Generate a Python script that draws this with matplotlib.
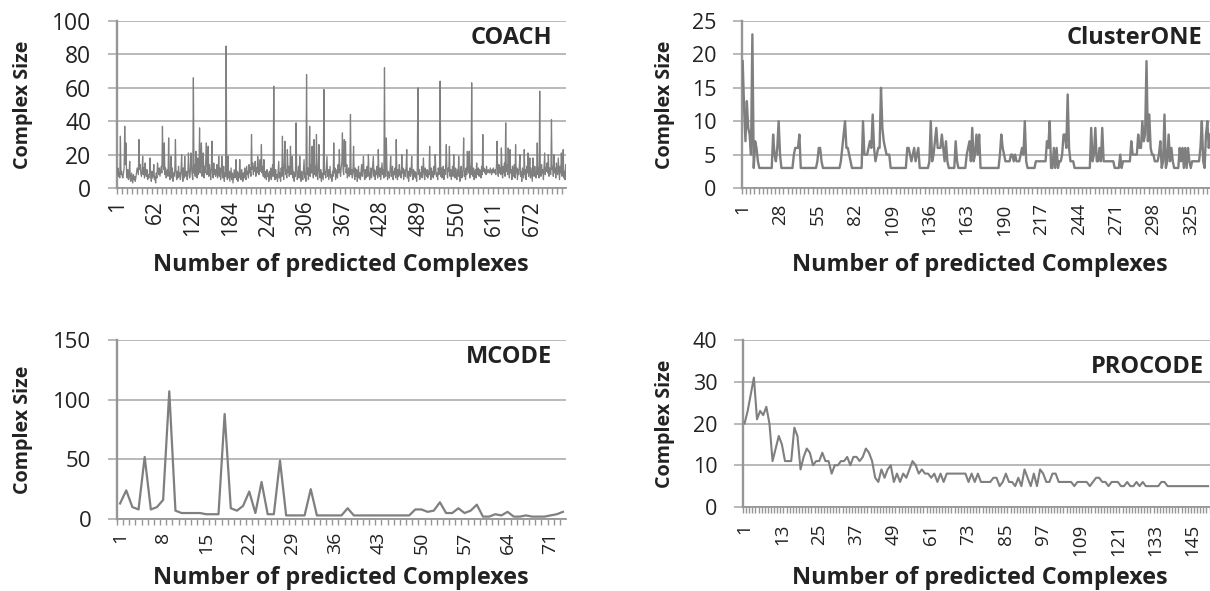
import numpy as np
import matplotlib
matplotlib.use("Agg")
import matplotlib.pyplot as plt

plt.rcParams['font.family'] = ['Open Sans', 'DejaVu Sans']

# complex sizes (one value per predicted complex)
coach = [
    8, 12, 7, 9, 6, 31, 8, 10, 7, 6, 9, 12, 37, 14, 27, 8, 6, 11, 5, 7,
    16, 5, 4, 9, 6, 3, 8, 5, 7, 4, 6, 9, 12, 10, 8, 29, 11, 14, 9, 7,
    10, 19, 8, 12, 6, 15, 9, 7, 11, 5, 8, 6, 9, 18, 7, 4, 10, 6, 8, 14,
    5, 7, 3, 9, 6, 15, 11, 8, 12, 7, 10, 13, 9, 37, 14, 11, 27, 8, 12, 6,
    9, 11, 7, 30, 10, 5, 8, 19, 6, 12, 4, 9, 7, 11, 29, 8, 5, 10, 6, 13,
    7, 9, 5, 11, 20, 8, 4, 12, 6, 19, 9, 7, 10, 5, 8, 21, 11, 6, 9, 21,
    12, 8, 5, 66, 9, 14, 7, 22, 10, 6, 18, 8, 11, 36, 9, 15, 27, 7, 12, 21,
    6, 13, 9, 17, 27, 8, 11, 25, 7, 14, 10, 5, 12, 28, 9, 6, 15, 8, 11, 7,
    10, 14, 6, 9, 19, 7, 12, 5, 8, 19, 11, 6, 13, 4, 9, 7, 85, 8, 5, 19,
    6, 10, 4, 8, 12, 5, 9, 3, 7, 11, 6, 8, 17, 5, 10, 4, 9, 6, 17, 7,
    5, 11, 8, 4, 9, 6, 12, 7, 5, 13, 8, 10, 6, 14, 9, 12, 7, 32, 11, 15,
    8, 13, 10, 16, 7, 12, 9, 19, 14, 8, 11, 17, 10, 26, 9, 13, 7, 17, 6, 10,
    8, 5, 11, 7, 9, 4, 10, 6, 12, 5, 8, 14, 7, 61, 9, 5, 11, 6, 8, 4,
    10, 16, 6, 9, 4, 12, 7, 31, 10, 5, 14, 28, 8, 11, 6, 23, 9, 13, 7, 10,
    25, 8, 12, 19, 6, 10, 4, 9, 7, 39, 11, 5, 8, 13, 6, 19, 9, 4, 10, 7,
    5, 11, 17, 6, 9, 4, 68, 8, 12, 5, 10, 37, 7, 14, 9, 25, 11, 6, 29, 8,
    13, 7, 32, 10, 5, 12, 26, 8, 6, 11, 4, 9, 7, 5, 59, 8, 10, 6, 12, 19,
    7, 11, 5, 9, 13, 6, 8, 4, 10, 7, 27, 9, 12, 5, 8, 11, 6, 14, 9, 23,
    10, 7, 12, 15, 33, 11, 8, 29, 13, 28, 9, 14, 6, 10, 12, 7, 9, 44, 8, 11,
    6, 10, 25, 9, 5, 12, 7, 11, 4, 8, 13, 6, 9, 5, 10, 14, 7, 12, 19, 8,
    5, 11, 6, 9, 13, 7, 20, 10, 5, 8, 12, 6, 9, 14, 19, 7, 11, 5, 10, 8,
    13, 6, 23, 9, 7, 12, 5, 10, 15, 8, 11, 6, 72, 9, 7, 30, 12, 5, 10, 8,
    6, 11, 19, 7, 9, 13, 5, 10, 8, 12, 6, 29, 9, 5, 11, 7, 14, 8, 10, 6,
    20, 9, 12, 5, 8, 11, 7, 13, 23, 6, 10, 4, 9, 12, 7, 10, 19, 8, 5, 11,
    7, 10, 6, 9, 4, 12, 60, 8, 11, 5, 9, 7, 13, 6, 10, 18, 8, 5, 12, 9,
    7, 11, 6, 10, 8, 25, 9, 5, 12, 7, 10, 6, 13, 8, 20, 11, 7, 9, 5, 12,
    8, 10, 64, 7, 12, 6, 9, 13, 5, 11, 8, 14, 26, 9, 6, 12, 10, 25, 7, 11,
    5, 9, 13, 7, 20, 10, 6, 12, 8, 5, 11, 7, 19, 9, 4, 10, 13, 6, 8, 12,
    30, 7, 10, 5, 12, 8, 22, 11, 9, 22, 6, 13, 8, 63, 10, 7, 12, 5, 9, 11,
    6, 15, 10, 8, 12, 7, 11, 9, 6, 13, 8, 32, 10, 12, 9, 11, 8, 13, 10, 9,
    11, 10, 9, 12, 10, 8, 11, 9, 12, 10, 9, 11, 8, 13, 28, 10, 7, 14, 9, 12,
    8, 24, 11, 6, 13, 9, 15, 7, 39, 10, 14, 8, 24, 12, 6, 23, 9, 11, 5, 13,
    7, 10, 14, 6, 26, 9, 12, 5, 11, 8, 13, 20, 7, 10, 4, 12, 9, 6, 23, 8,
    11, 5, 13, 9, 21, 7, 10, 18, 6, 12, 8, 4, 18, 11, 7, 13, 9, 6, 10, 27,
    8, 12, 6, 58, 10, 7, 14, 9, 11, 5, 13, 21, 8, 12, 10, 15, 9, 20, 7, 12,
    10, 8, 41, 11, 13, 7, 20, 9, 12, 6, 15, 10, 8, 18, 11, 5, 13, 9, 21, 7,
    12, 23, 6, 10, 5, 14,
]

clusterone = [
    19, 12, 7, 13, 9, 8, 5, 23, 3, 7, 6, 4, 3, 3, 3, 3, 3, 3, 3, 3,
    3, 3, 8, 5, 4, 6, 10, 5, 3, 3, 3, 3, 3, 3, 3, 3, 3, 5, 6, 6,
    6, 8, 3, 3, 3, 3, 3, 3, 3, 3, 3, 3, 3, 3, 4, 6, 6, 4, 3, 3,
    3, 3, 3, 3, 3, 3, 3, 3, 3, 3, 3, 4, 6, 8, 10, 6, 6, 5, 4, 3,
    3, 3, 3, 3, 3, 3, 3, 10, 5, 5, 5, 6, 7, 6, 11, 6, 4, 5, 6, 6,
    15, 9, 7, 6, 5, 5, 5, 3, 3, 3, 3, 3, 3, 3, 3, 3, 3, 3, 3, 6,
    6, 5, 4, 5, 6, 4, 5, 6, 3, 3, 3, 3, 3, 3, 3, 4, 10, 4, 5, 7,
    9, 6, 6, 6, 8, 6, 4, 7, 4, 3, 3, 3, 3, 3, 7, 4, 3, 3, 3, 3,
    3, 3, 5, 6, 7, 4, 9, 4, 5, 8, 5, 8, 3, 3, 3, 3, 3, 3, 3, 3,
    3, 3, 3, 3, 3, 3, 5, 8, 6, 5, 4, 4, 4, 4, 5, 5, 4, 5, 4, 4,
    4, 5, 6, 5, 10, 4, 3, 3, 3, 3, 3, 3, 4, 4, 4, 4, 4, 4, 4, 4,
    7, 6, 10, 3, 3, 6, 3, 6, 3, 4, 4, 5, 8, 8, 6, 14, 6, 4, 4, 4,
    3, 3, 3, 3, 3, 3, 3, 3, 3, 3, 3, 3, 9, 4, 5, 9, 4, 4, 6, 4,
    9, 4, 4, 4, 4, 4, 4, 4, 4, 3, 3, 3, 3, 5, 3, 4, 4, 4, 4, 4,
    4, 7, 5, 5, 5, 5, 8, 6, 6, 10, 7, 8, 19, 7, 11, 6, 5, 5, 4, 4,
    4, 5, 7, 3, 4, 11, 3, 4, 8, 4, 6, 4, 3, 3, 3, 3, 6, 4, 6, 3,
    6, 3, 6, 4, 3, 4, 4, 4, 4, 4, 4, 6, 10, 4, 3, 8, 10, 6, 8,
]

mcode = [
    13, 24, 10, 8, 52, 8, 10, 16, 107, 7, 5, 5, 5, 5, 4, 4, 4, 88, 9, 7,
    11, 23, 5, 31, 4, 4, 49, 3, 3, 3, 3, 25, 3, 3, 3, 3, 3, 9, 3, 3,
    3, 3, 3, 3, 3, 3, 3, 3, 8, 8, 6, 7, 14, 5, 5, 9, 5, 7, 12, 2,
    2, 4, 3, 6, 2, 2, 3, 2, 2, 2, 3, 4, 6,
]

procode = [
    20, 23, 27, 31, 21, 23, 22, 24, 20, 11, 14, 17, 15, 11, 11, 11, 19, 17, 9, 12,
    14, 13, 10, 11, 11, 13, 11, 11, 8, 10, 10, 11, 11, 12, 10, 12, 12, 11, 12, 14,
    13, 11, 7, 6, 9, 7, 9, 10, 6, 8, 6, 8, 7, 9, 11, 10, 8, 9, 8, 8,
    7, 8, 6, 8, 6, 8, 8, 8, 8, 8, 8, 8, 6, 8, 6, 8, 6, 6, 6, 6,
    7, 7, 5, 6, 8, 6, 6, 5, 7, 5, 9, 7, 5, 8, 5, 9, 8, 6, 6, 8,
    8, 6, 6, 6, 6, 6, 5, 6, 6, 6, 6, 5, 6, 7, 7, 6, 6, 5, 6, 6,
    6, 5, 5, 6, 5, 5, 6, 5, 6, 5, 5, 5, 5, 5, 6, 6, 5, 5, 5, 5,
    5, 5, 5, 5, 5, 5, 5, 5, 5, 5,
]

W, H = 1210, 591
line_gray = '#7f7f7f'
grid_gray = '#a6a6a6'
axis_gray = '#969696'
text_col = '#222222'

fig = plt.figure(figsize=(W / 100, H / 100), dpi=100)


def panel(left, top, right, bottom):
    return fig.add_axes([left / W, 1 - bottom / H, (right - left) / W, (bottom - top) / H])


def draw(ax, values, ymax, ystep, label_step, tick_step, xmax, lw, ysize, xsize, xpad):
    x = np.arange(1, len(values) + 1)
    ax.plot(x, values, color=line_gray, lw=lw, solid_joinstyle='round', zorder=3)
    ax.set_xlim(0.5, xmax)
    ax.set_ylim(0, ymax)
    ax.set_yticks(np.arange(0, ymax + 1, ystep))
    ax.set_xticks(np.arange(1, xmax, label_step))
    ax.set_xticks(np.arange(0.5, xmax, tick_step), minor=True)
    ax.yaxis.grid(True, color=grid_gray, lw=1.1)
    ax.set_axisbelow(True)
    for s in ['top', 'right']:
        ax.spines[s].set_visible(False)
    ax.spines['left'].set_color(axis_gray)
    ax.spines['left'].set_linewidth(1.7)
    ax.spines['bottom'].set_color(axis_gray)
    ax.spines['bottom'].set_linewidth(1.3)
    ax.tick_params(axis='y', length=6.5, width=1.1, color=grid_gray, pad=12,
                   labelsize=ysize, labelcolor=text_col)
    ax.tick_params(axis='x', which='major', length=0, pad=xpad, labelrotation=90,
                   labelsize=xsize, labelcolor=text_col)
    ax.tick_params(axis='x', which='minor', length=4, width=1, color=axis_gray)


ax1 = panel(117, 21, 566, 188)
draw(ax1, coach, 100, 20, 61, 8, 726.5, 0.9, 16.5, 15, 9)
ax2 = panel(742, 21, 1218, 188)
draw(ax2, clusterone, 25, 5, 27, 3, 344.7, 1.7, 15.5, 13.5, 11)
ax3 = panel(117, 340, 566, 519)
draw(ax3, mcode, 150, 50, 7, 1, 73.5, 1.6, 16, 14, 9)
ax4 = panel(743, 340, 1218, 507)
draw(ax4, procode, 40, 10, 12, 1, 153.2, 1.5, 15.5, 13.5, 12)

# panel names
titles = [('COACH', 552, 44), ('ClusterONE', 1202, 44),
          ('MCODE', 552, 363), ('PROCODE', 1204, 373)]
for name, xr, yb in titles:
    fig.text(xr / W, 1 - yb / H, name, ha='right', va='baseline',
             fontsize=17, fontweight='bold', color=text_col)

# axis titles
for xc, yb in [(341, 271), (980, 271), (341, 584), (980, 584)]:
    fig.text(xc / W, 1 - yb / H, 'Number of predicted Complexes', ha='center',
             va='baseline', fontsize=16.8, fontweight='bold', color=text_col)
for xc, yc in [(23, 104.5), (665, 104.5), (23, 429.5), (665, 423.5)]:
    fig.text(xc / W, 1 - yc / H, 'Complex Size', ha='center', va='center',
             rotation=90, fontsize=14.2, fontweight='bold', color=text_col)

fig.savefig('out.png', dpi=100, facecolor='white')
